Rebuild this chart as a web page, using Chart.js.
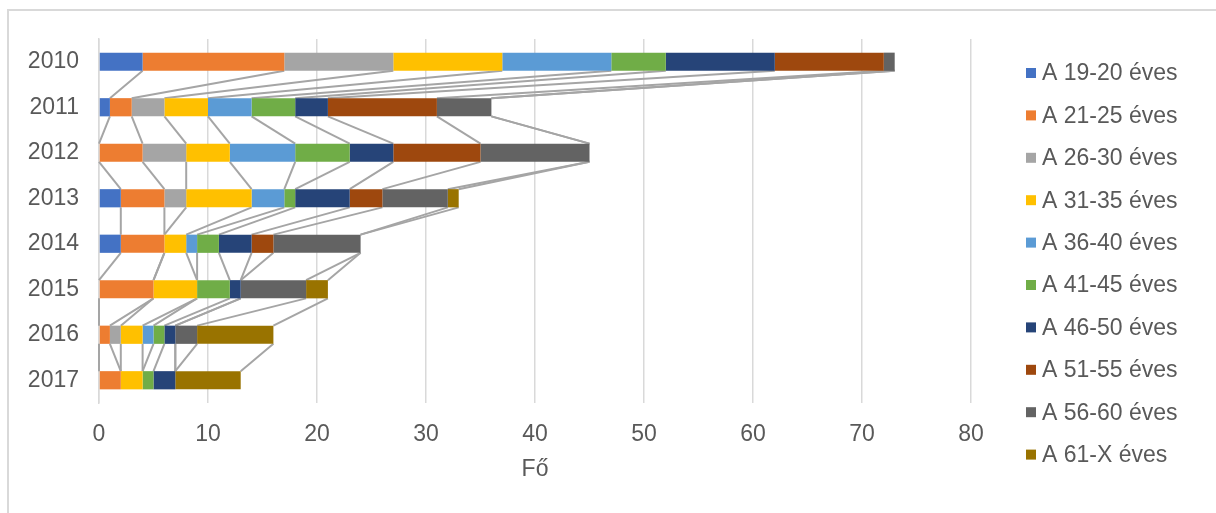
<!DOCTYPE html>
<html>
<head>
<meta charset="utf-8">
<script src="https://cdn.jsdelivr.net/npm/chart.js@4/dist/chart.umd.min.js"></script>
<style>
  html, body { margin:0; padding:0; background:#fff; overflow:hidden; }
  #frame { position:absolute; left:7px; top:9px; width:1300px; height:600px; border:2px solid #d9d9d9; box-sizing:border-box; }
  #wrap { position:absolute; left:0; top:0; width:1216px; height:513px; }
</style>
</head>
<body>
<div id="frame"></div>
<div id="wrap"><canvas id="chart" width="1216" height="513"></canvas></div>
<script>
// === DATA ===
const years = ['2010', '2011', '2012', '2013', '2014', '2015', '2016', '2017'];
const ageGroups = ['A 19-20 éves', 'A 21-25 éves', 'A 26-30 éves', 'A 31-35 éves', 'A 36-40 éves',
                   'A 41-45 éves', 'A 46-50 éves', 'A 51-55 éves', 'A 56-60 éves', 'A 61-X éves'];
const age19_20 = [4, 1, 0, 2, 2, 0, 0, 0];
const age21_25 = [13, 2, 4, 4, 4, 5, 1, 2];
const age26_30 = [10, 3, 4, 2, 0, 0, 1, 0];
const age31_35 = [10, 4, 4, 6, 2, 4, 2, 2];
const age36_40 = [10, 4, 6, 3, 1, 0, 1, 0];
const age41_45 = [5, 4, 5, 1, 2, 3, 1, 1];
const age46_50 = [10, 3, 4, 5, 3, 1, 1, 2];
const age51_55 = [10, 10, 8, 3, 2, 0, 0, 0];
const age56_60 = [1, 5, 10, 6, 8, 6, 2, 0];
const age61_X  = [0, 0, 0, 1, 0, 2, 7, 6];
const xTicks = [0, 10, 20, 30, 40, 50, 60, 70, 80];
const xTitle = 'Fő';

const seriesValues = [age19_20, age21_25, age26_30, age31_35, age36_40, age41_45, age46_50, age51_55, age56_60, age61_X];
const colors = ['#4472C4', '#ED7D31', '#A5A5A5', '#FFC000', '#5B9BD5', '#70AD47', '#264478', '#9E480E', '#636363', '#997300'];

const FONT = '"Liberation Sans", Arial, sans-serif';
const TEXT = '#595959';

// === SERIES LINES (Excel-style connectors between stacked segments) ===
const seriesLines = {
    id: 'seriesLines',
    beforeDatasetsDraw(chart){
        const ctx = chart.ctx;
        ctx.save();
        ctx.strokeStyle = '#a5a5a5';
        ctx.lineWidth = 2;
        chart.data.datasets.forEach((ds, di)=>{
            const els = chart.getDatasetMeta(di).data;
            for(let i=0;i<els.length-1;i++){
                const a = els[i].getProps(['x','y','height'], true);
                const b = els[i+1].getProps(['x','y','height'], true);
                ctx.beginPath();
                ctx.moveTo(a.x, a.y + a.height/2);
                ctx.lineTo(b.x, b.y - b.height/2);
                ctx.stroke();
            }
        });
        ctx.restore();
    }
};

// === LEGEND (right column) ===
const sideLegend = {
    id: 'sideLegend',
    afterDraw(chart){
        const ctx = chart.ctx;
        ctx.save();
        ctx.font = `23px ${FONT}`;
        ctx.textBaseline = 'middle';
        ctx.textAlign = 'left';
        chart.data.datasets.forEach((ds, i)=>{
            const y = 73 + i*42.4;
            ctx.fillStyle = ds.backgroundColor;
            ctx.fillRect(1026, y-5, 10, 10);
            ctx.fillStyle = TEXT;
            ctx.fillText(ds.label, 1042, y+1);
        });
        ctx.restore();
    }
};

const datasets = ageGroups.map((name, i)=>({
    label: name,
    data: seriesValues[i],
    backgroundColor: colors[i],
    borderWidth: 0,
    barPercentage: 0.4,
    categoryPercentage: 1
}));

new Chart(document.getElementById('chart'), {
    type: 'bar',
    data: { labels: years, datasets },
    plugins: [seriesLines, sideLegend],
    options: {
        indexAxis: 'y',
        responsive: false,
        animation: false,
        layout: { padding: { left: 0, right: 245, top: 39, bottom: 26 } },
        plugins: { legend: { display: false }, tooltip: { enabled: false } },
        scales: {
            x: {
                stacked: true,
                min: 0, max: 80,
                afterBuildTicks: axis => { axis.ticks = xTicks.map(v=>({value:v})); },
                grid: { color: '#d9d9d9', lineWidth: 1.5, drawTicks: false },
                border: { display: false },
                ticks: { color: TEXT, font: { family: FONT, size: 23 }, padding: 18 },
                title: { display: true, text: xTitle, color: TEXT, font: { family: FONT, size: 23 }, padding: { top: 6 } },
                afterFit: axis => { axis.height = 84; }
            },
            y: {
                stacked: true,
                grid: { display: false, drawTicks: false },
                border: { display: true, color: '#d9d9d9', width: 1.5 },
                ticks: { color: TEXT, font: { family: FONT, size: 23 }, padding: 20 },
                afterFit: axis => { axis.width = 99; }
            }
        }
    }
});
</script>
</body>
</html>
